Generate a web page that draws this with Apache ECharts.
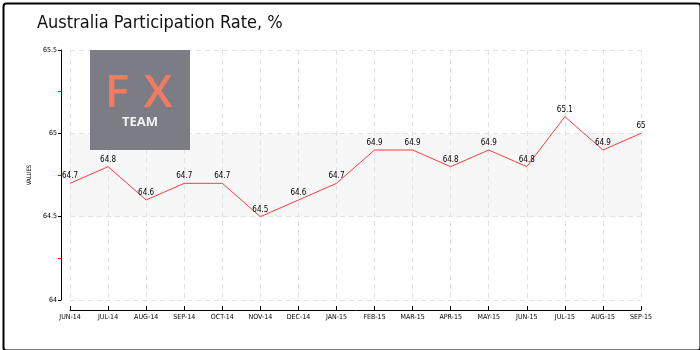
<!DOCTYPE html>
<html><head><meta charset="utf-8">
<script src="https://cdn.jsdelivr.net/npm/echarts@6/dist/echarts.min.js"></script>
<style>html,body{margin:0;padding:0;background:#fff}#c{width:700px;height:350px}</style>
</head><body><div id="c"></div>
<script>
const categories = ['JUN-14','JUL-14','AUG-14','SEP-14','OCT-14','NOV-14','DEC-14','JAN-15','FEB-15','MAR-15','APR-15','MAY-15','JUN-15','JUL-15','AUG-15','SEP-15'];
const values = [64.7,64.8,64.6,64.7,64.7,64.5,64.6,64.7,64.9,64.9,64.8,64.9,64.8,65.1,64.9,65];
const yTicks = [64, 64.5, 65, 65.5];
const redTicks = [64.25, 64.75, 65.25];
const bandRange = [64.5, 65];
const labelFont = '"DejaVu Sans Condensed", "DejaVu Sans", sans-serif';
const chart = echarts.init(document.getElementById('c'));
chart.setOption({
  animation: false,
  title: {text: 'Australia Participation Rate, %', left: 32, top: 9,
    textStyle: {fontFamily: '"DejaVu Sans Condensed", "DejaVu Sans", sans-serif', fontWeight: 'normal', fontSize: 18, color: '#111'}},
  graphic: [
    {type: 'rect', left: 1, top: 1, z: 100, shape: {width: 697, height: 347, r: 3},
      style: {fill: 'none', stroke: '#000', lineWidth: 2}},
    {type: 'rect', x: 90, y: 50, z: 100, shape: {x: 0, y: 0, width: 100, height: 100}, style: {fill: '#7b7c84'}},
    {type: 'text', x: 117, y: 94, z: 101, style: {text: 'F', fill: '#f07a62', font: '600 46px "Open Sans"', align: 'center', verticalAlign: 'middle'}},
    {type: 'text', x: 158, y: 94, z: 101, style: {text: 'X', fill: '#f07a62', font: '600 46px "Open Sans"', align: 'center', verticalAlign: 'middle'}},
    {type: 'text', x: 140, y: 122, z: 101, style: {text: 'TEAM', fill: '#f2f2f2', font: 'bold 13px "Open Sans"', align: 'center', verticalAlign: 'middle'}}
  ],
  grid: {left: 70, right: 59, top: 50, bottom: 50},
  xAxis: {type: 'category', data: categories, boundaryGap: false, offset: 10,
    axisLine: {lineStyle: {color: '#000', width: 1}},
    axisTick: {inside: true, length: 4, alignWithLabel: true, lineStyle: {color: '#000'}},
    axisLabel: {interval: 0, color: '#000', fontSize: 7, fontFamily: labelFont, margin: 4},
    splitLine: {show: true, lineStyle: {color: '#e2e2e2', type: [5, 4]}}},
  yAxis: [
    {type: 'value', min: 64, max: 65.5, interval: 0.5, offset: 9, name: 'VALUES', nameLocation: 'middle', nameGap: 27,
      nameTextStyle: {fontSize: 6, fontFamily: labelFont, color: '#000'},
      axisLine: {show: true, lineStyle: {color: '#000'}},
      axisTick: {show: true, length: 3, lineStyle: {color: '#000'}},
      axisLabel: {color: '#000', fontSize: 7, fontFamily: labelFont, margin: 4, formatter: v => String(v)},
      splitLine: {show: true, lineStyle: {color: '#e2e2e2', type: [5, 4]}}},
    {type: 'value', min: 64, max: 65.5, position: 'left', offset: 9,
      axisLine: {show: false}, splitLine: {show: false},
      axisTick: {show: true, length: 3, customValues: redTicks, lineStyle: {color: '#e00'}},
      axisLabel: {show: false}}
  ],
  series: [{type: 'line', data: values, showSymbol: true, symbol: 'circle', symbolSize: 0,
    lineStyle: {color: '#ff3c3c', width: 1},
    label: {show: true, position: 'top', distance: 3, fontSize: 8, fontFamily: labelFont, color: '#000'},
    markArea: {silent: true, itemStyle: {color: '#f7f7f7'}, data: [[{yAxis: bandRange[0]}, {yAxis: bandRange[1]}]], z: -1},
    z: 5}]
});
</script></body></html>
